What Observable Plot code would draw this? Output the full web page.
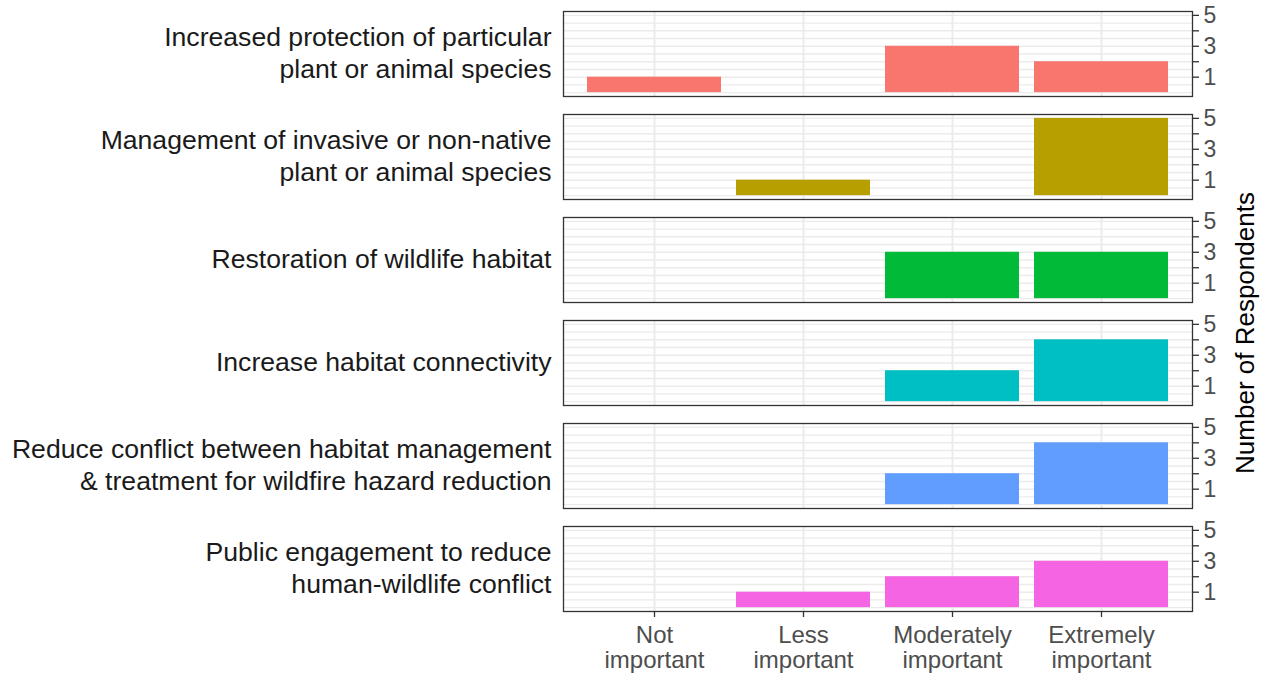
<!DOCTYPE html>
<html>
<head>
<meta charset="utf-8">
<script src="https://cdn.jsdelivr.net/npm/d3@7"></script>
<script src="https://cdn.jsdelivr.net/npm/@observablehq/plot@0.6"></script>
<style>
  body { margin: 0; background: #fff; }
  #wrap { position: relative; width: 1267px; height: 675px; font-family: "Liberation Sans", Arial, sans-serif; }
  #ylab { position: absolute; left: 1245px; top: 333px; transform: translate(-50%, -50%) rotate(-90deg); font-size: 26px; color: #000; white-space: nowrap; }
</style>
</head>
<body>
<div id="wrap"><div id="ylab">Number of Respondents</div></div>
<script>
const items = [
  "Increased protection of particular\nplant or animal species",
  "Management of invasive or non-native\nplant or animal species",
  "Restoration of wildlife habitat",
  "Increase habitat connectivity",
  "Reduce conflict between habitat management\n& treatment for wildfire hazard reduction",
  "Public engagement to reduce\nhuman-wildlife conflict"
];
const levels = ["Not important", "Less important", "Moderately important", "Extremely important"];
const levelLabels = ["Not\nimportant", "Less\nimportant", "Moderately\nimportant", "Extremely\nimportant"];
const colors = ["#F8766D", "#B79F00", "#00BA38", "#00BFC4", "#619CFF", "#F564E3"];
// counts per item, in the order of levels
const counts = [
  [1, 0, 3, 2],
  [0, 1, 0, 5],
  [0, 0, 3, 3],
  [0, 0, 2, 4],
  [0, 0, 2, 4],
  [0, 1, 2, 3]
];
const yTicks = [1, 2, 3, 4, 5];
const gridTicks = [0, 0.5, 1, 1.5, 2, 2.5, 3, 3.5, 4, 4.5, 5];

const data = [];
items.forEach((it, i) => levels.forEach((lv, j) => {
  if (counts[i][j] > 0) data.push({item: it, level: lv, n: counts[i][j]});
}));
const labelData = items.map(it => ({item: it}));

const chart = Plot.plot({
  width: 1267,
  height: 675,
  marginTop: 11,
  marginBottom: 64,
  marginLeft: 563,
  marginRight: 75,
  style: {fontFamily: "Liberation Sans, Arial, sans-serif", background: "#fff"},
  x: {domain: levels, paddingInner: 0.1, paddingOuter: 0.15, label: null},
  y: {domain: [-0.25, 5.25], label: null},
  fy: {domain: items, paddingInner: 0.175, paddingOuter: 0, label: null, axis: null},
  color: {domain: items, range: colors},
  marks: [
    Plot.gridY(gridTicks, {stroke: "#ebebeb", strokeOpacity: 1, strokeWidth: 1.4}),
    Plot.gridX({stroke: "#ebebeb", strokeOpacity: 1, strokeWidth: 2}),
    Plot.barY(data, {x: "level", y: "n", fy: "item", fill: "item"}),
    Plot.frame({stroke: "#333", strokeWidth: 1.3}),
    Plot.axisY(yTicks, {anchor: "right", tickSize: 6, tickPadding: 5, stroke: "#333", strokeWidth: 1.3,
      fill: "#4d4d4d", fontSize: 23, tickFormat: d => d % 2 ? String(d) : "", label: null}),
    Plot.axisX({tickSize: 6, tickPadding: 8, stroke: "#333", strokeWidth: 1.3, fill: "#4d4d4d", fontSize: 24,
      lineHeight: 1.04, tickFormat: d => levelLabels[levels.indexOf(d)], label: null}),
    Plot.text(labelData, {fy: "item", text: "item", frameAnchor: "left", textAnchor: "end", dx: -12, dy: -2,
      fontSize: 26.6, lineHeight: 1.2, fill: "#1a1a1a"})
  ]
});
document.getElementById("wrap").prepend(chart);
</script>
</body>
</html>
